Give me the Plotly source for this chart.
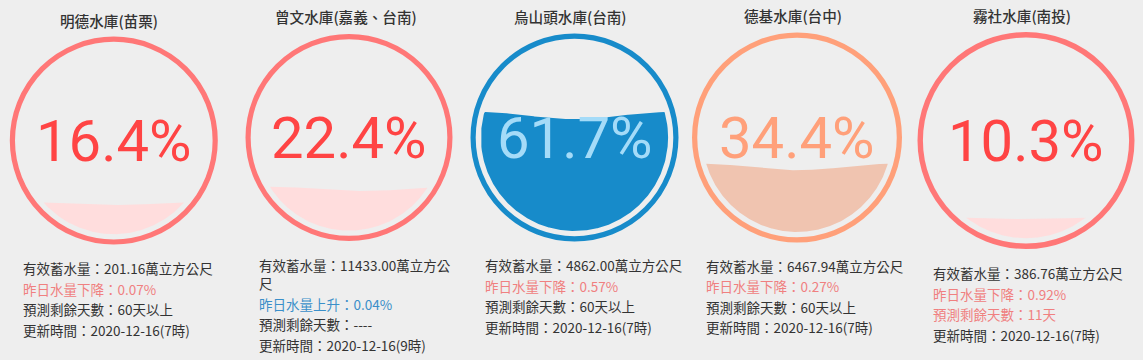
import math
import plotly.graph_objects as go

# ---------------- data ----------------
names = ["明德水庫(苗栗)", "曾文水庫(嘉義、台南)", "烏山頭水庫(台南)", "德基水庫(台中)", "霧社水庫(南投)"]
percent = [16.4, 22.4, 61.7, 34.4, 10.3]
storage = [201.16, 11433.00, 4862.00, 6467.94, 386.76]
daily_change = [-0.07, 0.04, -0.57, -0.27, -0.92]
days_left = ["60天以上", "----", "60天以上", "60天以上", "11天"]
days_warning = [False, False, False, False, True]
update_time = ["2020-12-16(7時)", "2020-12-16(9時)", "2020-12-16(7時)", "2020-12-16(7時)", "2020-12-16(7時)"]
status = ["red", "red", "blue", "orange", "red"]

# ---------------- style / layout ----------------
W, H = 1143, 360
BG = "#EEEEEE"
PALETTE = {
    "red": dict(circle="#FF7777", text="#FF4444", wave_text="#FFAAAA", wave="#FFDDDD"),
    "blue": dict(circle="#178BCA", text="#045681", wave_text="#A4DBF8", wave="#178BCA"),
    "orange": dict(circle="#FFA07A", text="#FFA07A", wave_text="#FFF0E8", wave="#F0C4B0"),
}
cx = [113.8, 349.0, 574.5, 797.0, 1026.0]
cy = [140.6, 137.5, 137.5, 137.5, 140.5]
R = [104.0, 103.5, 104.0, 105.0, 108.5]
title_x = [109, 346, 570, 793, 1021.7]
title_y = [20, 16, 16, 15, 15]
text_x = [22, 258, 484, 705, 931.7]
text_y0 = [268.3, 265.7, 265.0, 265.7, 273.3]
wave_phase = [0.0, -0.5, 0.0, 0.0, 0.0]
LINE_STEP = 20.5
TEXT_MAX_W = 200
BODY_SIZE = 13.5
LINE_H = 1.3 * BODY_SIZE
DARK = "#333333"
RED_TXT = "#F08080"
BLUE_TXT = "#3A8FC9"
CJK = "Noto Sans CJK TC"

fig = go.Figure()
shapes = []
annotations = []


def text_width(s, size):
    w = 0.0
    for ch in s:
        if ord(ch) < 128:
            w += 0.27 if ch in ".:()" else 0.56
        else:
            w += 1.0
    return w * size


def wrap(s, size, maxw):
    lines, cur = [], ""
    for ch in s:
        if text_width(cur + ch, size) > maxw and cur:
            lines.append(cur)
            cur = ch
        else:
            cur += ch
    lines.append(cur)
    return lines


for i in range(len(names)):
    pal = PALETTE[status[i]]
    t = 0.05 * R[i]
    gap = 0.05 * R[i]
    rs = R[i] - t / 2
    rin = R[i] - t - gap
    # outer ring
    shapes.append(dict(type="circle", xref="x", yref="y",
                       x0=cx[i] - rs, x1=cx[i] + rs, y0=cy[i] - rs, y1=cy[i] + rs,
                       line=dict(color=pal["circle"], width=t), fillcolor="rgba(0,0,0,0)"))
    # liquid fill
    p = percent[i] / 100.0
    level = cy[i] + rin - 2 * rin * p
    amp = 0.05 * rin * (1 - abs(p - 0.5) * 2)
    n = 400
    up, lo = [], []
    for k in range(n + 1):
        x = cx[i] - rin + 2 * rin * k / n
        dx = x - cx[i]
        h = math.sqrt(max(rin * rin - dx * dx, 0.0))
        yt, yb = cy[i] - h, cy[i] + h
        tt = (x - (cx[i] - rin)) / (2 * rin)
        yw = level - amp * math.cos(2 * math.pi * tt + wave_phase[i])
        top = max(yt, yw)
        if top < yb:
            up.append((x, top))
            lo.append((x, yb))
    xs = [q[0] for q in up] + [q[0] for q in reversed(lo)]
    ys = [q[1] for q in up] + [q[1] for q in reversed(lo)]
    fig.add_trace(go.Scatter(x=xs, y=ys, mode="lines", fill="toself",
                             fillcolor=pal["wave"], line=dict(width=0, color=pal["wave"]),
                             hoverinfo="skip", showlegend=False))
    # percentage text
    pct_color = pal["wave_text"] if level < cy[i] else pal["text"]
    annotations.append(dict(x=cx[i], y=cy[i], xref="x", yref="y", text=f"{percent[i]:.1f}%",
                            showarrow=False, xanchor="center", yanchor="middle",
                            font=dict(family="Roboto", size=58, color=pct_color)))
    # title
    annotations.append(dict(x=title_x[i], y=title_y[i], xref="x", yref="y", text=names[i],
                            showarrow=False, xanchor="center", yanchor="middle",
                            font=dict(family=CJK, size=14.6, color=DARK, weight=500)))
    # info lines
    ch = daily_change[i]
    info = [
        (f"有效蓄水量：{storage[i]:.2f}萬立方公尺", DARK),
        (("昨日水量下降：" if ch < 0 else "昨日水量上升：") + f"{abs(ch):.2f}%", RED_TXT if ch < 0 else BLUE_TXT),
        (f"預測剩餘天數：{days_left[i]}", RED_TXT if days_warning[i] else DARK),
        (f"更新時間：{update_time[i]}", DARK),
    ]
    y = text_y0[i]
    for txt, col in info:
        parts = wrap(txt, BODY_SIZE, TEXT_MAX_W)
        extra = (len(parts) - 1) * LINE_H
        annotations.append(dict(x=text_x[i], y=y + extra / 2, xref="x", yref="y",
                                text="<br>".join(parts), align="left",
                                showarrow=False, xanchor="left", yanchor="middle",
                                borderpad=0,
                                font=dict(family=CJK, size=BODY_SIZE, color=col)))
        y += extra + LINE_STEP

fig.update_layout(
    width=W, height=H, margin=dict(l=0, r=0, t=0, b=0),
    paper_bgcolor=BG, plot_bgcolor=BG,
    xaxis=dict(range=[0, W], visible=False, fixedrange=True),
    yaxis=dict(range=[H, 0], visible=False, fixedrange=True),
    shapes=shapes, annotations=annotations, showlegend=False,
)
fig.write_html("out.html", config={"displayModeBar": False},
               post_script="document.body.style.margin='0';document.body.style.background='#EEEEEE';")
